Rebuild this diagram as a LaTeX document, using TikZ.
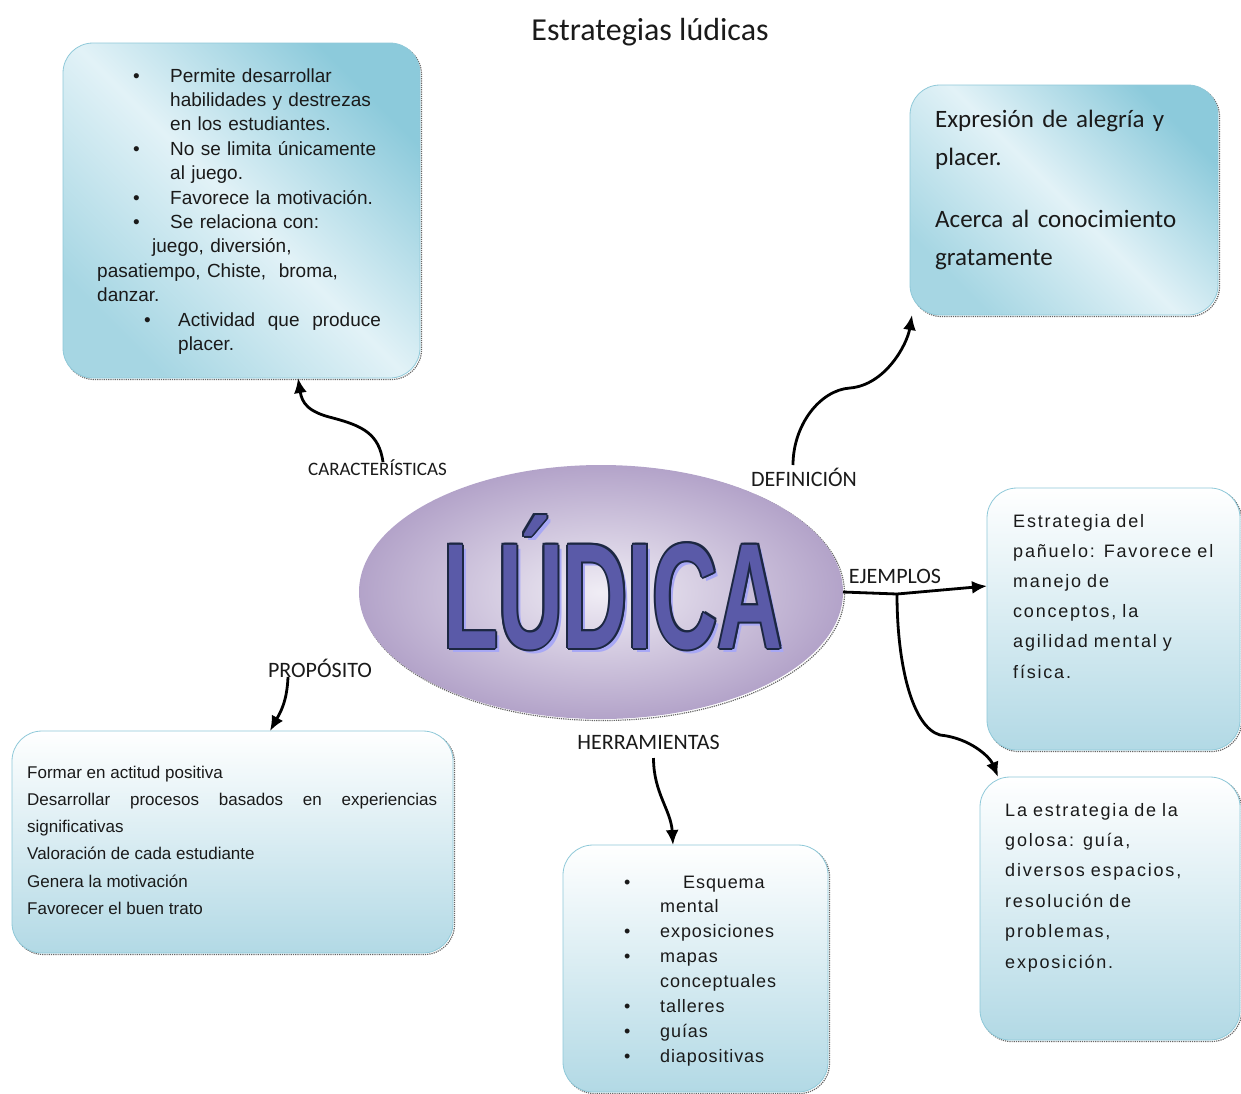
\documentclass[tikz,border=0pt]{standalone}
\usepackage{fontspec}
\setmainfont{Liberation Sans}
\newfontfamily\carlito{Carlito}
\newfontfamily\espaciada[LetterSpace=10]{Liberation Sans}
\newfontfamily\pocoespaciada[LetterSpace=5]{Liberation Sans}
\usepackage{tikz}
\usetikzlibrary{arrows.meta,positioning,calc,shapes.geometric,shadows}

\definecolor{tealOsc}{HTML}{8CCADB}
\definecolor{tealMed}{HTML}{A6D6E3}
\definecolor{tealCla}{HTML}{E2F2F7}
\definecolor{azulBajo}{HTML}{B2D9E5}
\definecolor{bordeCaja}{HTML}{8FC9D9}
\definecolor{lilaCla}{HTML}{F0EDF5}
\definecolor{lilaOsc}{HTML}{B3A3C9}
\definecolor{ludBorde}{HTML}{1C2742}
\definecolor{ludRelleno}{HTML}{5A5AA8}
\definecolor{ludSombra}{HTML}{A8A8F5}
\definecolor{tinta}{HTML}{1A1A1A}

\newcommand{\vineta}[1][37pt]{\makebox[#1][l]{\textbullet}}

\begin{document}
\begin{tikzpicture}[x=1pt, y=-1pt,
            caja/.style={draw=bordeCaja, line width=0.8pt, rounded corners=30pt,
                outer sep=0pt, inner sep=0pt,
                general shadow={shadow xshift=1.5pt, shadow yshift=-1.5pt,
                    draw=black!60, densely dotted, line width=1.2pt, fill=none}},
            cajaDiag/.style={caja, shade, top color=tealOsc, bottom color=tealMed,
                middle color=tealCla, shading angle=-45},
            cajaVert/.style={caja, shade, top color=white, bottom color=azulBajo},
            texto/.style={anchor=base west, inner sep=0pt, align=left, text=tinta},
            etiqueta/.style={anchor=base, inner sep=1pt, text=tinta,
                font=\carlito\fontsize{22}{26}\selectfont},
            ludica/.style={anchor=base, inner sep=0pt, xscale=0.6,
                font=\bfseries\fontsize{150}{150}\selectfont},
            conector/.style={draw, line width=2.8pt, -{Latex[length=15pt,width=13pt]}}]
        \path[use as bounding box, fill=white] (0,0) rectangle (1241,1093);

        \node[anchor=base, text=tinta, font=\carlito\fontsize{32}{36}\selectfont]
            (titulo) at (650,40) {Estrategias lúdicas};

        \node[cajaDiag, minimum width=357pt, minimum height=335pt] (boxCar) at (241.5,210.5) {};
        \node[cajaDiag, minimum width=308pt, minimum height=230pt] (boxDef) at (1064,200) {};
        \node[cajaVert, minimum width=441pt, minimum height=222pt] (boxProp) at (232.5,842) {};
        \node[cajaVert, minimum width=265pt, minimum height=247pt] (boxHer) at (695.5,968.5) {};
        \node[cajaVert, minimum width=253pt, minimum height=262pt] (boxEj1) at (1113.5,619) {};
        \node[cajaVert, minimum width=260pt, minimum height=263pt] (boxEj2) at (1110,908.5) {};

        \node[texto, text width=330pt, font=\fontsize{19}{24.4}\selectfont] (txtCar) at (97,82)
            {\hspace*{36pt}\vineta Permite desarrollar\\
             \hspace*{73pt}habilidades y destrezas\\
             \hspace*{73pt}en los estudiantes.\\
             \hspace*{36pt}\vineta No se limita únicamente\\
             \hspace*{73pt}al juego.\\
             \hspace*{36pt}\vineta Favorece la motivación.\\
             \hspace*{36pt}\vineta Se relaciona con:\\
             \hspace*{55pt}juego, diversión,\\
             pasatiempo, Chiste,\ \ broma,\\
             danzar.\\
             \hspace*{47pt}\vineta[34pt]Actividad\ \ que\ \ produce\\
             \hspace*{81pt}placer.};
        \node[texto, text width=270pt, font=\carlito\fontsize{25}{38}\selectfont] (txtDef) at (935,127)
            {Expresión de alegría y\\ placer.\\[24pt]
             Acerca al conocimiento\\ gratamente};
        \node[texto, text width=410pt, align=justify, font=\fontsize{17}{27.3}\selectfont]
            (txtProp) at (27,778)
            {Formar en actitud positiva\\
             Desarrollar procesos basados en experiencias \mbox{significativas}\\
             Valoración de cada estudiante\\
             Genera la motivación\\
             Favorecer el buen trato};
        \node[texto, text width=200pt, font=\pocoespaciada\fontsize{18}{24.9}\selectfont]
            (txtHer) at (624,888)
            {\vineta[36pt]\hspace*{23pt}Esquema\\
             \hspace*{36pt}mental\\
             \vineta[36pt]exposiciones\\
             \vineta[36pt]mapas\\
             \hspace*{36pt}conceptuales\\
             \vineta[36pt]talleres\\
             \vineta[36pt]guías\\
             \vineta[36pt]diapositivas};
        \node[texto, text width=225pt, font=\espaciada\fontsize{18}{30.2}\selectfont]
            (txtEj1) at (1013,527)
            {Estrategia del\\ pañuelo: Favorece el\\ manejo de\\ conceptos, la\\
             agilidad mental y\\ física.};
        \node[texto, text width=230pt, font=\espaciada\fontsize{18}{30.4}\selectfont]
            (txtEj2) at (1005,816)
            {La estrategia de la\\ golosa: guía,\\ diversos espacios,\\ resolución de\\
             problemas,\\ exposición.};

        \node[ellipse, minimum width=484pt, minimum height=254pt, inner sep=0pt, outer sep=0pt,
            shade, inner color=lilaCla, outer color=lilaOsc,
            general shadow={shadow xshift=1.5pt, shadow yshift=-1.5pt,
                draw=black!60, densely dotted, line width=1.2pt, fill=none}]
            (ellLud) at (601,592) {};
        \node[ludica, text=ludSombra] (ludS) at ($(ellLud.center)+(16,60)$) {LÚDICA};
        \foreach \dx/\dy [count=\k] in {-2/0, 2/0, 0/-2, 0/2, -1.5/-1.5, 1.5/1.5, -1.5/1.5, 1.5/-1.5}
            \node[ludica, text=ludBorde] (ludB\k) at ($(ellLud.center)+(12+\dx,56+\dy)$) {LÚDICA};
        \node[ludica, text=ludRelleno] (ludT) at ($(ellLud.center)+(12,56)$) {LÚDICA};

        \node[etiqueta, font=\carlito\fontsize{19}{22}\selectfont] (lblCar) at (377.5,475) {CARACTERÍSTICAS};
        \node[etiqueta] (lblDef) at (804,486) {DEFINICIÓN};
        \node[etiqueta] (lblEj) at (895,583) {EJEMPLOS};
        \node[etiqueta] (lblProp) at (320,677) {PROPÓSITO};
        \node[etiqueta] (lblHer) at (648.5,749) {HERRAMIENTAS};

        \coordinate (ejNudo) at ($(ellLud.east)+(54,2)$);

        \path[conector] ($(lblCar.base)+(5.5,-13)$) .. controls +(-4,-28) and +(30,8) .. ++(-50,-44)
            .. controls +(-25,-6) and +(4,25) .. ($(boxCar.south)+(56.5,0)$);
        \path[conector] ($(lblDef.base)+(-11,-21)$) .. controls +(0,-40) and +(-30,2) .. ++(57,-77)
            .. controls +(35,-3) and +(-5,30) .. ($(boxDef.south west)+(2,0)$);
        \path[draw, line width=2.8pt] (ellLud.east) -- (ejNudo);
        \path[conector] (ejNudo) -- ($(boxEj1.west)+(0,-33)$);
        \path[conector] (ejNudo) .. controls +(0,70) and +(-28,-8) .. ++(43,141)
            .. controls +(30,3) and +(-8,-20) .. ($(boxEj2.north west)+(18,0)$);
        \path[conector] ($(lblProp.base)+(-32,0)$) .. controls +(-1,25) and +(10,-18) .. (boxProp.north -| 270,0);
        \path[conector] ($(lblHer.base)+(5,9)$) .. controls +(0,35) and +(-2,-35) .. ($(boxHer.north)+(-22.5,0)$);
\end{tikzpicture}
\end{document}
